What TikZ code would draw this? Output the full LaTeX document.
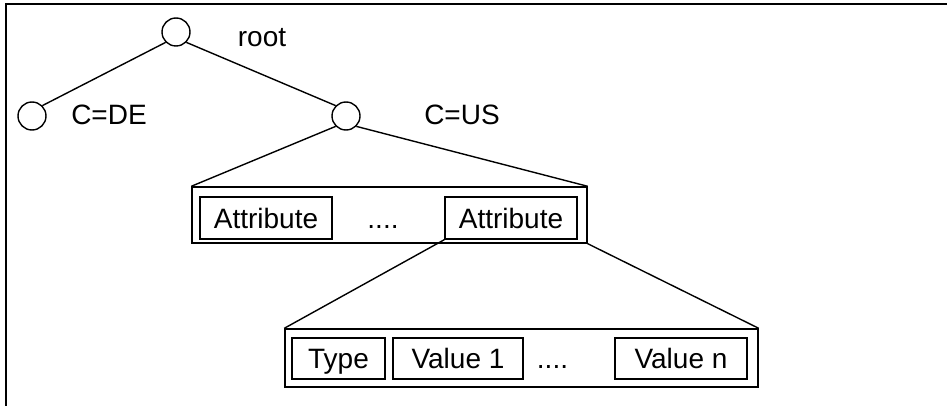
\documentclass[tikz,border=0pt]{standalone}
\usepackage{fontspec}
\setmainfont{Liberation Sans}
\tikzset{
  treenode/.style = {align=center, inner sep=0pt, text centered, font=\fontsize{28}{33}\selectfont},
  % D node: empty circle of the directory tree
  dit_D/.style = {treenode, circle, draw=black, minimum size=28pt},
  % L node: plain text label, placed by its baseline
  dit_L/.style = {treenode, anchor=base},
  % entry and attribute boxes
  box_E/.style = {draw=black, inner sep=0pt},
  box_A/.style = {treenode, draw=black, text height=20pt, text depth=0pt, minimum height=42pt}
}
\begin{document}
\begin{tikzpicture}[x=1pt, y=-1pt, line width=1.4pt]
    \useasboundingbox (0,0) rectangle (947,406);
    % Frame (open to the right and bottom):
    \coordinate (frameTL) at (6,4);
    \coordinate (frameTR) at (947,4);
    \coordinate (frameBL) at (6,406);
    \draw (frameTR) -- (frameTL) -- (frameBL);
    % Layer 0 - root:
    \node [dit_D] (root) at (176,32) {};
    \node [dit_L] (root_L) at (262,47) {root};
    % Layer 1 - C=DE and C=US:
    \node [dit_D] (de) at (32,116) {};
    \node [dit_L] (de_L) at (109,125) {C=DE};
    \node [dit_D] (us) at (346,116) {};
    \node [dit_L] (us_L) at (462,125) {C=US};
    \draw (root.south west) -- (de.north east);
    \draw (root.south east) -- (us.north west);
    % Layer 2 - entry of C=US:
    \node [box_E, minimum width=395pt, minimum height=56pt] (entry) at (389.5,215) {};
    \node [box_A, minimum width=132pt] (attr1) at (266,218) {Attribute};
    \node [dit_L] (entry_dots) at (383,228) {....};
    \node [box_A, minimum width=132pt] (attr2) at (511,218) {Attribute};
    \draw (us.south west) -- (entry.north west);
    \draw (us.south east) -- (entry.north east);
    % Layer 3 - one attribute:
    \node [box_E, minimum width=473pt, minimum height=58pt] (attrib) at (521.5,358) {};
    \node [box_A, minimum width=93pt, minimum height=41pt] (type) at (338.5,358.5) {Type};
    \node [box_A, minimum width=130pt, minimum height=41pt] (val1) at (458,358.5) {Value 1};
    \node [dit_L] (attrib_dots) at (552.5,368.5) {....};
    \node [box_A, minimum width=132pt, minimum height=41pt] (valn) at (681,358.5) {Value n};
    \draw (attr2.south west) -- (attrib.north west);
    \draw (entry.south east) -- (attrib.north east);
\end{tikzpicture}
\end{document}
